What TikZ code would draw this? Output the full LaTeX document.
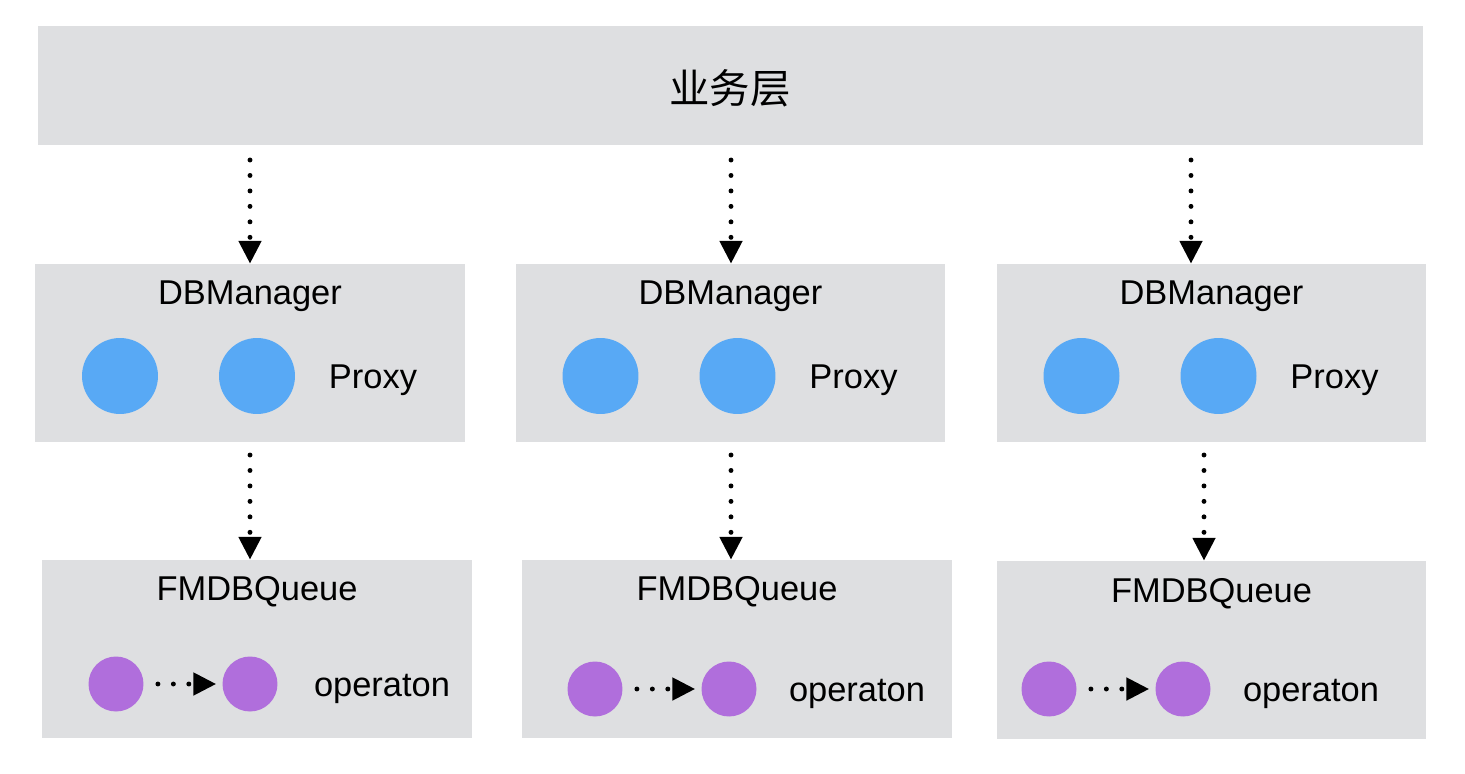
\documentclass[tikz,border=0pt]{standalone}
\usepackage{fontspec}
\setmainfont{Liberation Sans}
\newfontfamily\cjk{Noto Sans CJK SC}
\usetikzlibrary{arrows.meta}
\definecolor{boxgray}{RGB}{222,223,225}
\definecolor{proxyblue}{RGB}{88,169,245}
\definecolor{oppurple}{RGB}{176,110,220}
\tikzset{
	layer/.style={fill=boxgray, inner sep=0pt},
	mgrbox/.style={layer, minimum width=8.6cm, minimum height=3.56cm},
	queuebox/.style={layer, minimum width=8.6cm, minimum height=3.56cm},
	proxy/.style={circle, fill=proxyblue, minimum size=1.52cm, inner sep=0pt},
	op/.style={circle, fill=oppurple, minimum size=1.1cm, inner sep=0pt},
	lbl/.style={font=\fontsize{19.6}{23}\selectfont, anchor=base, inner sep=0pt},
	flow/.style={line width=2.8pt, line cap=round, dash pattern=on 0pt off 8.8pt,
		-{Triangle[width=12.5pt,length=13pt]}},
}
\begin{document}
\begin{tikzpicture}[x=0.02cm, y=-0.02cm]
		\useasboundingbox (0,0) rectangle (1465,774);
		% business layer
			\node[layer, minimum width=27.7cm, minimum height=2.38cm] (biz) at (730.5,85.5) {};
			\node[font=\cjk\fontsize{23}{27}\selectfont] (bizlbl) at (730,88) {业务层};
		% columns: manager, queue, arrows
			\foreach \i/\mx/\tx/\ux/\qx/\qy/\oa/\oy/\ox/\ty in {%
				1/250/250/250/257/649/116/684/382/600,%
				2/730.5/731/731/737/649/595/689/857/600,%
				3/1211.5/1191/1204/1211.5/650/1049/689/1311/602}{
				% DBManager
				\node[mgrbox] (m\i) at (\mx,353) {};
				\node[lbl] (mt\i) at (\mx,304) {DBManager};
				\node[proxy] (pa\i) at (\mx-130,376) {};
				\node[proxy] (pb\i) at (\mx+7,376) {};
				\node[lbl] (px\i) at (\mx+123,388) {Proxy};
				% FMDBQueue
				\node[queuebox] (q\i) at (\qx,\qy) {};
				\node[lbl] (qt\i) at (\qx,\ty) {FMDBQueue};
				\node[op] (oa\i) at (\oa,\oy) {};
				\node[op] (ob\i) at (\oa+134,\oy) {};
				\node[lbl] (ot\i) at (\ox,\oy+12) {operaton};
				\draw[flow, shorten <=8pt, shorten >=3.4pt] (oa\i.east) -- (ob\i.west);
				% arrows
				\coordinate (t\i) at (\tx,160);
				\draw[flow] (t\i) -- (m\i.north -| t\i);
				\coordinate (u\i) at (\ux,455);
				\draw[flow] (u\i) -- (q\i.north -| u\i);
				}
	\end{tikzpicture}
\end{document}
